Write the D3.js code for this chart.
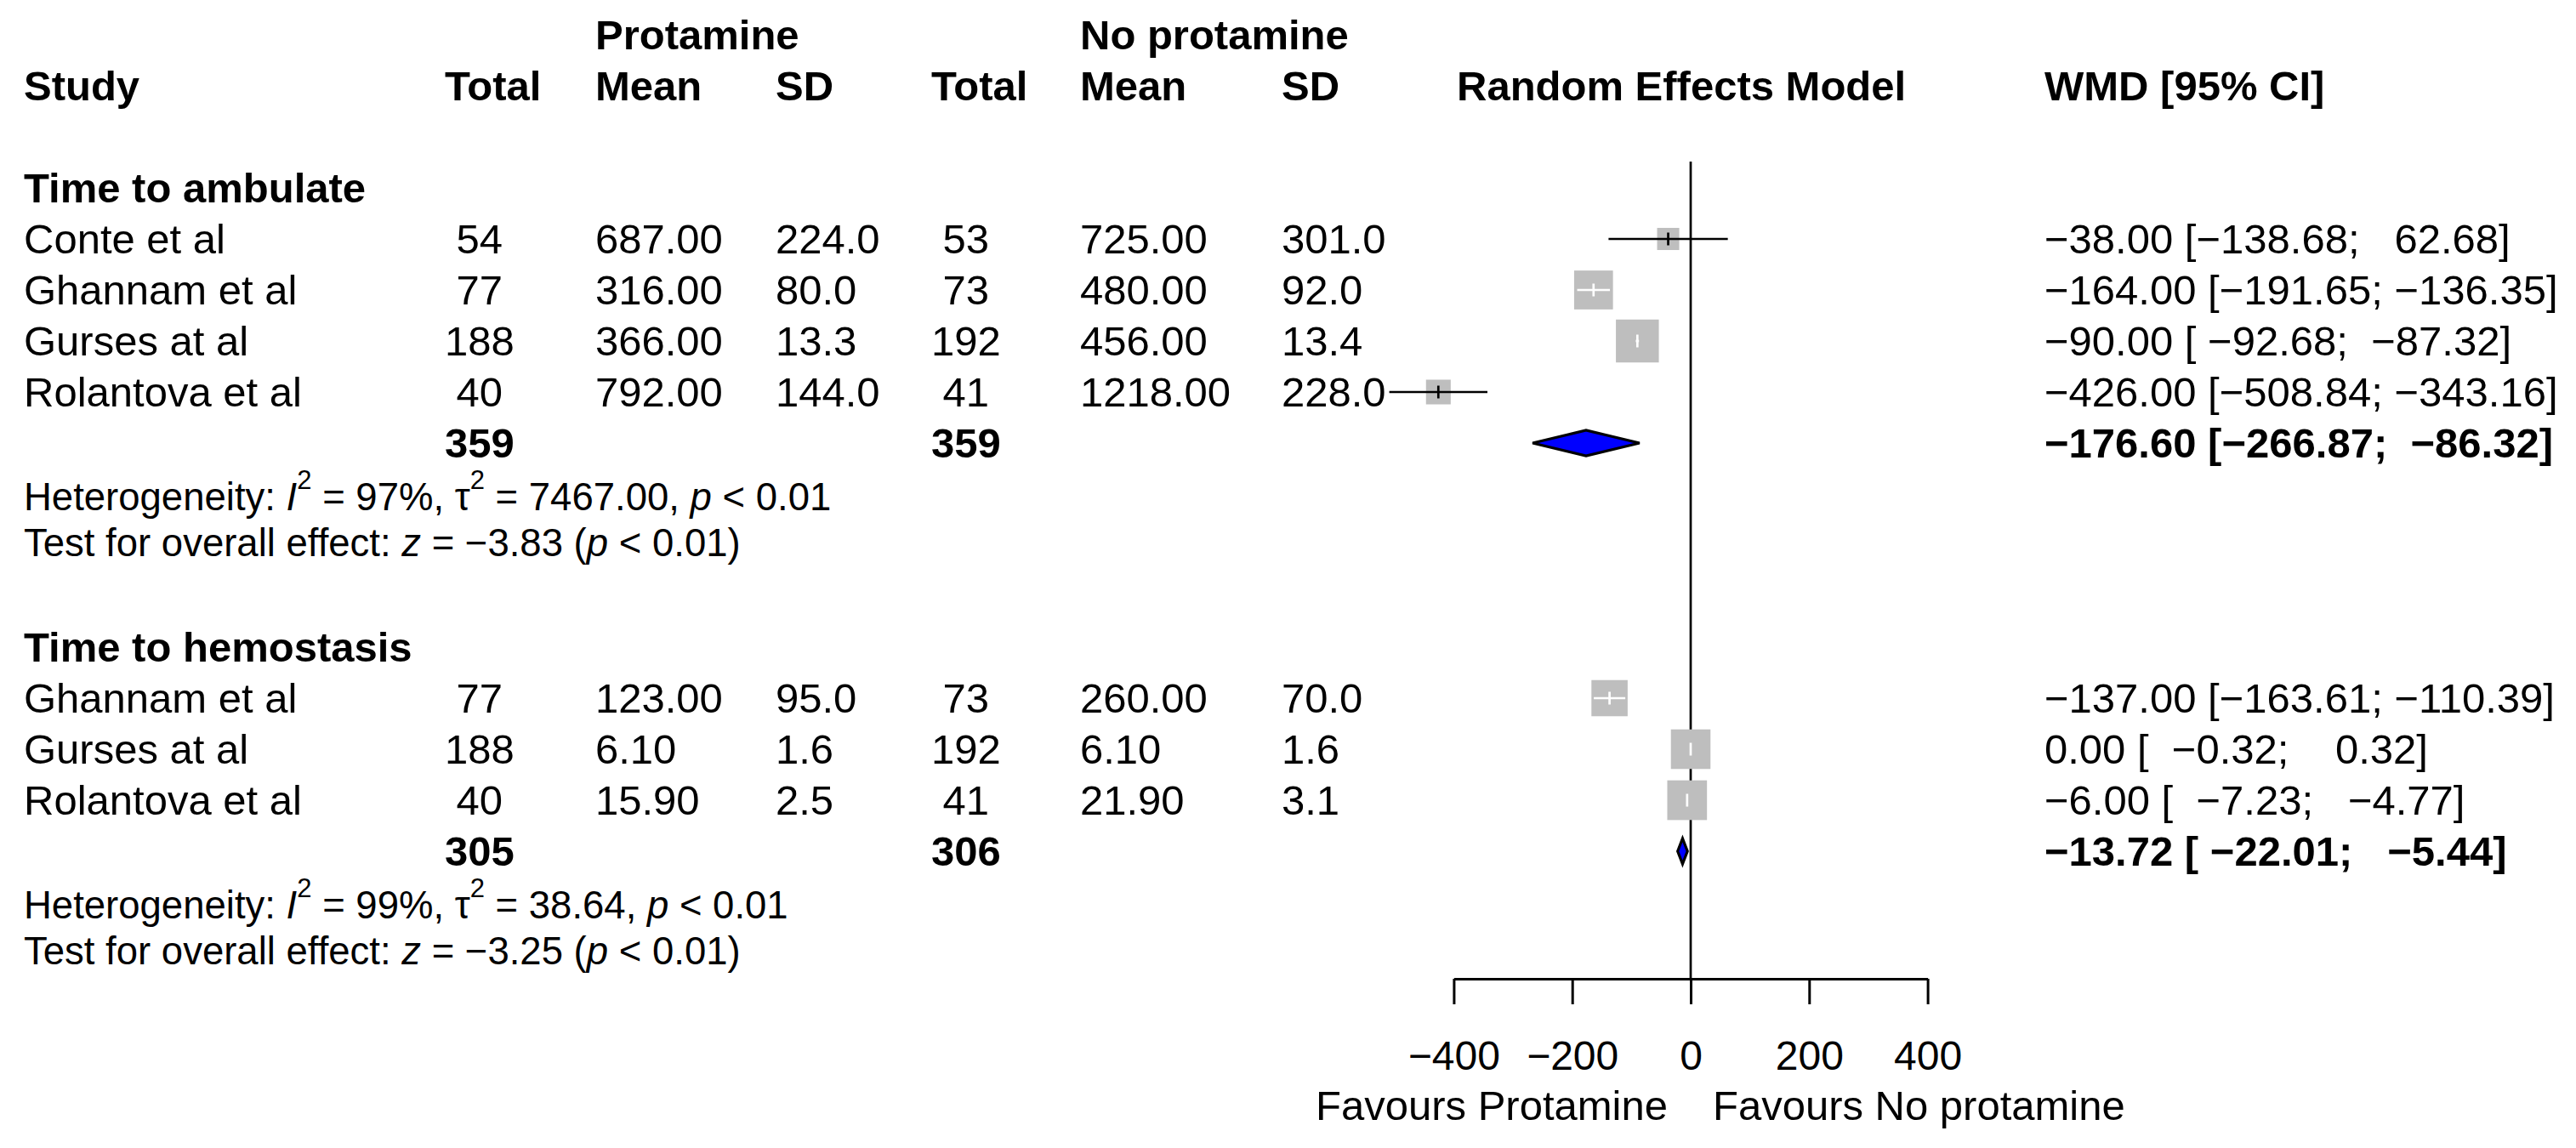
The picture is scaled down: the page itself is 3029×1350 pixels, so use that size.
<!DOCTYPE html>
<html>
<head>
<meta charset="utf-8">
<script src="https://cdn.jsdelivr.net/npm/d3@7"></script>
<style>
  html, body { margin: 0; padding: 0; background: #ffffff; }
  svg text { font-family: "Liberation Sans", Arial, Helvetica, sans-serif; white-space: pre; fill: #000; }
</style>
</head>
<body>
<svg id="chart" width="3029" height="1350"></svg>
<script>
// ---------------- data ----------------
const groupNames   = ["Time to ambulate", "Time to hemostasis"];
const studyNames   = ["Conte et al", "Ghannam et al", "Gurses at al", "Rolantova et al",
                      "Ghannam et al", "Gurses at al", "Rolantova et al"];
const studyGroup   = [0, 0, 0, 0, 1, 1, 1];
const totalE       = [54, 77, 188, 40, 77, 188, 40];
const meanE        = [687.00, 316.00, 366.00, 792.00, 123.00, 6.10, 15.90];
const sdE          = [224.0, 80.0, 13.3, 144.0, 95.0, 1.6, 2.5];
const totalC       = [53, 73, 192, 41, 73, 192, 41];
const meanC        = [725.00, 480.00, 456.00, 1218.00, 260.00, 6.10, 21.90];
const sdC          = [301.0, 92.0, 13.4, 228.0, 70.0, 1.6, 3.1];
const wmd          = [-38.00, -164.00, -90.00, -426.00, -137.00, 0.00, -6.00];
const ciLower      = [-138.68, -191.65, -92.68, -508.84, -163.61, -0.32, -7.23];
const ciUpper      = [62.68, -136.35, -87.32, -343.16, -110.39, 0.32, -4.77];
const weightPct    = [11.0, 33.9, 41.4, 13.7, 29.4, 35.2, 35.4];

const pooledTotalE = [359, 305];
const pooledTotalC = [359, 306];
const pooledWmd    = [-176.60, -13.72];
const pooledLower  = [-266.87, -22.01];
const pooledUpper  = [-86.32, -5.44];
const hetI2        = ["97%", "99%"];
const hetTau2      = ["7467.00", "38.64"];
const hetP         = ["< 0.01", "< 0.01"];
const testZ        = ["\u22123.83", "\u22123.25"];
const testP        = ["< 0.01", "< 0.01"];

const axisTicks    = [-400, -200, 0, 200, 400];
const groupLabelE  = "Protamine";
const groupLabelC  = "No protamine";
const headerLabels = ["Study", "Total", "Mean", "SD", "Total", "Mean", "SD", "Random Effects Model", "WMD [95% CI]"];
const favourLabels = ["Favours Protamine", "Favours No protamine"];

// ---------------- layout ----------------
const svg = d3.select("#chart");
svg.append("rect").attr("width", 3029).attr("height", 1350).attr("fill", "#fff");

const FS = 49, FS_HET = 45.5, FS_TICK = 48;
const colX = {study: 28, totE: 523, meanE: 700, sdE: 912, totC: 1095, meanC: 1270, sdC: 1507, model: 1713, wmd: 2404};
const rowY = d3.scaleLinear().domain([0, 18]).range([58, 1138]);   // text baseline per row
const MID = 17;   // baseline -> visual centre
const x = d3.scaleLinear().domain([-400, 400]).range([1709.4, 2266.6]);
const side = d3.scaleSqrt().domain([0, 41.4]).range([0, 50.5]);
const axisY = 1151;

const f2 = d3.format(".2f"), f1 = d3.format(".1f");
const pad = (s, n) => " ".repeat(Math.max(0, n - s.length)) + s;

function txt(xp, yp, s, opts = {}) {
  return svg.append("text")
    .attr("x", xp).attr("y", yp)
    .attr("xml:space", "preserve")
    .attr("font-size", opts.size || FS)
    .attr("font-weight", opts.bold ? "bold" : "normal")
    .attr("text-anchor", opts.anchor || "start")
    .text(s);
}

// headers
txt(colX.meanE, rowY(0), groupLabelE, {bold: true});
txt(colX.meanC, rowY(0), groupLabelC, {bold: true});
const hdrX = [colX.study, colX.totE, colX.meanE, colX.sdE, colX.totC, colX.meanC, colX.sdC, colX.model, colX.wmd];
headerLabels.forEach((h, i) => txt(hdrX[i], rowY(1), h, {bold: true}));

// build rows
const rows = [];
let r = 3;
groupNames.forEach((g, gi) => {
  rows.push({type: "group", g: gi, row: r++});
  studyNames.forEach((s, si) => { if (studyGroup[si] === gi) rows.push({type: "study", i: si, g: gi, row: r++}); });
  rows.push({type: "pooled", g: gi, row: r++});
  rows.push({type: "het", g: gi, row: r++});
  rows.push({type: "test", g: gi, row: r++});
  r++;
});

// CI text padding per group
function ciStrings(gi) {
  const idx = studyNames.map((_, i) => i).filter(i => studyGroup[i] === gi);
  const lows = idx.map(i => f2(ciLower[i])).concat([f2(pooledLower[gi])]);
  const ups  = idx.map(i => f2(ciUpper[i])).concat([f2(pooledUpper[gi])]);
  const lw = d3.max(lows, s => s.length), uw = d3.max(ups, s => s.length);
  return {lw, uw};
}
const ciW = groupNames.map((_, gi) => ciStrings(gi));
const ciText = (est, lo, hi, gi) =>
  f2(est) + " [" + pad(f2(lo), ciW[gi].lw) + "; " + pad(f2(hi), ciW[gi].uw) + "]";

// zero line (behind marks)
svg.append("line")
  .attr("x1", x(0)).attr("x2", x(0)).attr("y1", 190).attr("y2", axisY)
  .attr("stroke", "#000").attr("stroke-width", 2.7);

rows.forEach(d => {
  const yb = rowY(d.row);
  if (d.type === "group") {
    txt(colX.study, yb, groupNames[d.g], {bold: true});
  } else if (d.type === "study") {
    const i = d.i;
    txt(colX.study, yb, studyNames[i]);
    txt(colX.totE, yb, pad(String(totalE[i]), 3));
    txt(colX.meanE, yb, f2(meanE[i]));
    txt(colX.sdE, yb, f1(sdE[i]));
    txt(colX.totC, yb, pad(String(totalC[i]), 3));
    txt(colX.meanC, yb, f2(meanC[i]));
    txt(colX.sdC, yb, f1(sdC[i]));
    txt(colX.wmd, yb, ciText(wmd[i], ciLower[i], ciUpper[i], d.g));
    // marks
    const cy = yb - MID, s = side(weightPct[i]), cx = x(wmd[i]);
    svg.append("rect")
      .attr("x", cx - s / 2).attr("y", cy - s / 2).attr("width", s).attr("height", s)
      .attr("fill", "#bebebe");
    const inside = x(ciLower[i]) >= cx - s / 2 && x(ciUpper[i]) <= cx + s / 2;
    const col = inside ? "#ffffff" : "#000000";
    svg.append("line")
      .attr("x1", x(ciLower[i])).attr("x2", x(ciUpper[i])).attr("y1", cy).attr("y2", cy)
      .attr("stroke", col).attr("stroke-width", 2.7);
    svg.append("line")
      .attr("x1", cx).attr("x2", cx).attr("y1", cy - 7.5).attr("y2", cy + 7.5)
      .attr("stroke", col).attr("stroke-width", 2.7);
  } else if (d.type === "pooled") {
    const gi = d.g;
    txt(colX.totE, yb, pad(String(pooledTotalE[gi]), 3), {bold: true});
    txt(colX.totC, yb, pad(String(pooledTotalC[gi]), 3), {bold: true});
    txt(colX.wmd, yb, ciText(pooledWmd[gi], pooledLower[gi], pooledUpper[gi], gi), {bold: true});
    const cy = yb - MID, h = 15;
    const pts = [[x(pooledLower[gi]), cy], [x(pooledWmd[gi]), cy - h], [x(pooledUpper[gi]), cy], [x(pooledWmd[gi]), cy + h]];
    svg.append("path")
      .attr("d", d3.line()(pts) + "Z")
      .attr("fill", "#0000ff").attr("stroke", "#000").attr("stroke-width", 3.2)
      .attr("stroke-linejoin", "miter");
  } else if (d.type === "het") {
    const gi = d.g;
    const t = txt(colX.study, yb + 2, "", {size: FS_HET});
    t.append("tspan").text("Heterogeneity: ");
    t.append("tspan").attr("font-style", "italic").text("I");
    t.append("tspan").attr("font-size", 31).attr("dy", -25).text("2");
    t.append("tspan").attr("dy", 25).text(" = " + hetI2[gi] + ", \u03c4");
    t.append("tspan").attr("font-size", 31).attr("dy", -25).text("2");
    t.append("tspan").attr("dy", 25).text(" = " + hetTau2[gi] + ", ");
    t.append("tspan").attr("font-style", "italic").text("p");
    t.append("tspan").text(" " + hetP[gi]);
  } else if (d.type === "test") {
    const gi = d.g;
    const t = txt(colX.study, yb - 4, "", {size: FS_HET});
    t.append("tspan").text("Test for overall effect: ");
    t.append("tspan").attr("font-style", "italic").text("z");
    t.append("tspan").text(" = " + testZ[gi] + " (");
    t.append("tspan").attr("font-style", "italic").text("p");
    t.append("tspan").text(" " + testP[gi] + ")");
  }
});

// axis
const ax = svg.append("g").attr("transform", `translate(0,${axisY})`)
  .call(d3.axisBottom(x).tickValues(axisTicks).tickSize(30).tickSizeOuter(0).tickFormat(d3.format("d")));
ax.attr("font-family", null).attr("font-size", null);
ax.select(".domain").attr("stroke", "#000").attr("stroke-width", 3);
ax.selectAll(".tick line").attr("stroke", "#000").attr("stroke-width", 3);
ax.selectAll(".tick text").attr("y", 107).attr("dy", 0).attr("font-size", FS_TICK).attr("fill", "#000");

txt(x(0) - 27, 1317, favourLabels[0], {anchor: "end"});
txt(x(0) + 26, 1317, favourLabels[1]);
</script>
</body>
</html>
